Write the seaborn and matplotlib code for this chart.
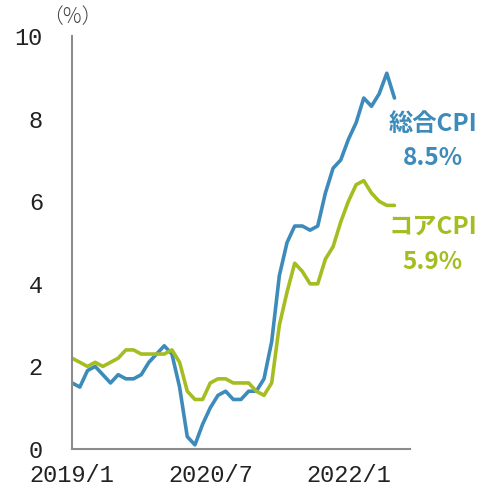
import pandas as pd
import numpy as np
import matplotlib
matplotlib.use("Agg")
import matplotlib.pyplot as plt
import seaborn as sns

# monthly data, 2019/1 - 2022/7 (year on year, %)
months = pd.period_range("2019-01", "2022-07", freq="M").strftime("%Y/%-m").tolist()
headline_cpi = [1.6, 1.5, 1.9, 2.0, 1.8, 1.6, 1.8, 1.7, 1.7, 1.8, 2.1, 2.3,
                2.5, 2.3, 1.5, 0.3, 0.1, 0.6, 1.0, 1.3, 1.4, 1.2, 1.2, 1.4,
                1.4, 1.7, 2.6, 4.2, 5.0, 5.4, 5.4, 5.3, 5.4, 6.2, 6.8, 7.0,
                7.5, 7.9, 8.5, 8.3, 8.6, 9.1, 8.5]
core_cpi = [2.2, 2.1, 2.0, 2.1, 2.0, 2.1, 2.2, 2.4, 2.4, 2.3, 2.3, 2.3,
            2.3, 2.4, 2.1, 1.4, 1.2, 1.2, 1.6, 1.7, 1.7, 1.6, 1.6, 1.6,
            1.4, 1.3, 1.6, 3.0, 3.8, 4.5, 4.3, 4.0, 4.0, 4.6, 4.9, 5.5,
            6.0, 6.4, 6.5, 6.2, 6.0, 5.9, 5.9]
xtick_labels = ["2019/1", "2020/7", "2022/1"]

blue = "#3d8bba"
green = "#a6bd22"
axis_gray = "#8c8c8c"

df = pd.DataFrame({"month": months, "idx": np.arange(len(months)),
                   "総合CPI": headline_cpi, "コアCPI": core_cpi})

sns.set_style("white")
plt.rcParams["font.family"] = ["Noto Sans CJK JP", "DejaVu Sans"]

fig = plt.figure(figsize=(4.81, 4.91), dpi=100)
ax = fig.add_axes([0.15, 0.0855, 0.702, 0.841])

sns.lineplot(data=df, x="idx", y="総合CPI", color=blue, linewidth=2.6, ax=ax)
sns.lineplot(data=df, x="idx", y="コアCPI", color=green, linewidth=2.6, ax=ax)

ax.set_xlim(0, 44)
ax.set_ylim(0, 10)
tick_pos = [months.index(m) for m in xtick_labels]
ax.set_xticks(tick_pos)
ax.set_xticklabels(xtick_labels)
ax.set_yticks([0, 2, 4, 6, 8, 10])
ax.set_xlabel("")
ax.set_ylabel("")

for s in ["top", "right"]:
    ax.spines[s].set_visible(False)
for s in ["left", "bottom"]:
    ax.spines[s].set_color(axis_gray)
    ax.spines[s].set_linewidth(1.5)
ax.tick_params(direction="in", length=6, width=1.2, color=axis_gray,
               labelsize=17, labelcolor="#222222")
ax.tick_params(axis="x", pad=11)
ax.tick_params(axis="y", pad=21)
for lab in ax.get_xticklabels() + ax.get_yticklabels():
    lab.set_family(["Liberation Mono", "DejaVu Sans Mono"])

ax.text(0.0, 1.02, "（%）", transform=ax.transAxes, fontsize=15,
        color="#444444", ha="center", va="bottom", fontweight="light")

# end labels
for txt, y, col in [("総合CPI", 0.787, blue), ("8.5%", 0.705, blue),
                    ("コアCPI", 0.5375, green), ("5.9%", 0.453, green)]:
    ax.text(1.068, y, txt, transform=ax.transAxes, fontsize=17.5,
            fontweight="bold", color=col, ha="center", va="center",
            clip_on=False)

fig.savefig("out.png", dpi=100)
